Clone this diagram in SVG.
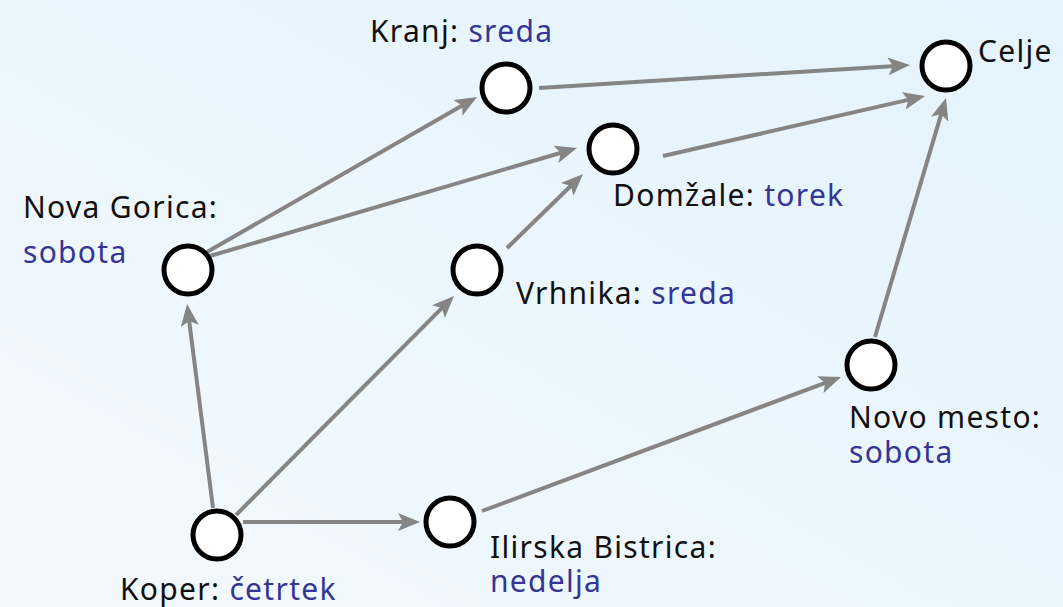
<svg xmlns="http://www.w3.org/2000/svg" width="1063" height="607" viewBox="0 0 1063 607">
<defs>
<linearGradient id="bg" x1="1" y1="0" x2="0" y2="1">
<stop offset="0" stop-color="#e4f3fd"/>
<stop offset="1" stop-color="#f3f9fe"/>
</linearGradient>
<marker id="ah" markerUnits="userSpaceOnUse" markerWidth="22" markerHeight="18" refX="8" refY="9" orient="auto" viewBox="0 0 22 18">
<path d="M0,0 L22,9 L0,18 L5,9 z" fill="#858585"/>
</marker>
<style>
.e{stroke:#858585;stroke-width:4;fill:none;marker-end:url(#ah)}
.n{fill:#fff;stroke:#000;stroke-width:5}
text{font-family:"Noto Sans","Liberation Sans",sans-serif;font-size:30px;letter-spacing:1.3px;fill:#111}
.d{fill:#353596}
</style>
</defs>
<rect width="1063" height="607" fill="url(#bg)"/>
<g id="connectors">
<line class="e" x1="213" y1="508" x2="188.8" y2="317.9"/>
<line class="e" x1="236" y1="515" x2="444.1" y2="305.9"/>
<line class="e" x1="243" y1="522" x2="406" y2="522"/>
<line class="e" x1="482" y1="511" x2="827.9" y2="381.9"/>
<line class="e" x1="875" y1="337" x2="942" y2="111.4"/>
<line class="e" x1="207" y1="252" x2="464.9" y2="104"/>
<line class="e" x1="210" y1="256" x2="563.6" y2="152"/>
<line class="e" x1="507" y1="248" x2="573" y2="183.8"/>
<line class="e" x1="539" y1="88" x2="896" y2="65.9"/>
<line class="e" x1="663" y1="156" x2="911.4" y2="99.1"/>
</g>
<g id="kranj"><circle class="n" cx="506" cy="88" r="24"/><text x="370" y="42">Kranj: <tspan class="d">sreda</tspan></text></g>
<g id="celje"><circle class="n" cx="946" cy="66" r="24"/><text x="978" y="62">Celje</text></g>
<g id="domzale"><circle class="n" cx="613" cy="149" r="24"/><text x="613" y="206">Domžale: <tspan class="d">torek</tspan></text></g>
<g id="nova-gorica"><circle class="n" cx="188" cy="270" r="24"/><text x="23" y="218">Nova Gorica:</text><text x="23" y="263" class="d">sobota</text></g>
<g id="vrhnika"><circle class="n" cx="477" cy="270" r="24"/><text x="516" y="304">Vrhnika: <tspan class="d">sreda</tspan></text></g>
<g id="novo-mesto"><circle class="n" cx="871" cy="365" r="24"/><text x="849" y="428">Novo mesto:</text><text x="849" y="463" class="d">sobota</text></g>
<g id="ilirska-bistrica"><circle class="n" cx="450" cy="522" r="24"/><text x="490" y="558">Ilirska Bistrica:</text><text x="490" y="592" class="d">nedelja</text></g>
<g id="koper"><circle class="n" cx="217" cy="535" r="24"/><text x="120" y="600">Koper: <tspan class="d">četrtek</tspan></text></g>
</svg>
